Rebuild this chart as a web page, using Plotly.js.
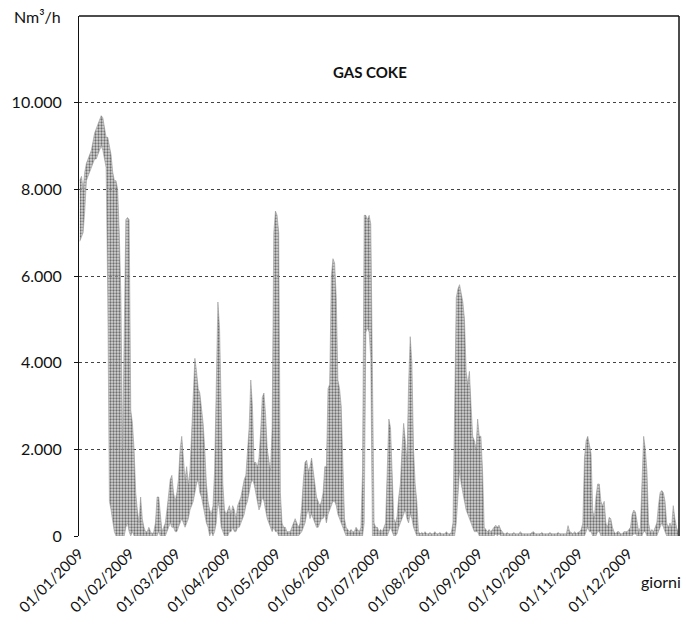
<!DOCTYPE html>
<html><head><meta charset="utf-8">
<script src="https://cdn.plot.ly/plotly-3.0.1.min.js"></script>
<style>html,body{margin:0;padding:0;background:#fff}</style>
</head><body><div id="chart" style="width:686px;height:627px"></div>
<script>
// Daily max / min of the hourly GAS COKE flow (Nm3/h)
const janMax = [8200,8300,8000,8400,8600,8700,8800,8900,9100,9300,9400,9500,9600,9700,9650,9400,9200,9200,9000,8800,8400,8200,8200,8000,7000,5500,2000,5000,7300,7350,7300];
const janMin = [6800,6900,7000,7500,8200,8300,8400,8500,8600,8700,8700,8800,8900,9000,8900,8700,8500,5500,800,600,300,100,0,0,0,0,0,0,200,300,100];
const febMax = [2900,2600,2000,1000,600,300,900,400,200,100,100,200,100,50,100,300,900,900,500,100,200,300,600,900,1300,1400,1000,800];
const febMin = [0,100,0,0,0,0,0,0,0,0,0,0,0,0,0,0,0,100,0,0,0,0,100,200,300,200,200,100];
const marMax = [1000,1300,2000,2300,1700,1300,1600,1200,1500,2500,3500,4100,3800,3400,3300,3000,2600,2000,1200,800,600,500,700,1500,3500,5400,4800,3000,1200,600,500];
const marMin = [100,200,300,400,300,200,300,400,600,700,800,1000,1200,1300,1000,900,700,500,300,200,0,100,0,100,300,800,600,200,100,0,0];
const aprMax = [600,700,500,700,600,400,700,800,900,1100,1300,1400,1900,2500,3600,3000,1700,1700,1600,1800,2400,3200,3300,2800,2000,1700,1500,2500,7000,7500];
const aprMin = [0,100,100,200,100,100,200,200,300,400,500,700,800,1000,1200,1300,1200,1000,800,600,700,900,800,600,400,300,200,100,200,100];
const mayMax = [7400,7000,1000,300,200,200,100,100,100,200,300,400,300,200,300,700,1300,1700,1750,1500,1600,1800,1500,1200,900,800,700,800,1000,1600,1600];
const mayMin = [100,0,0,0,0,0,0,0,0,0,0,0,0,0,50,100,200,300,500,600,400,500,400,300,200,200,300,400,400,500,300];
const junMax = [3400,3500,6000,6400,6300,5500,3600,3400,3000,1500,400,200,150,100,150,100,100,200,150,100,200,1500,7400,7400,7300,7400,7200,4200,300,200];
const junMin = [500,600,700,800,800,700,500,400,300,200,100,0,0,0,0,0,0,0,0,0,0,0,300,4700,4800,4700,4100,0,0,0];
const julMax = [200,100,150,100,200,300,1500,2700,2500,1200,400,300,450,900,1200,2000,2600,2200,1700,3500,4600,4000,2000,1200,800,100,50,80,50,100,50];
const julMin = [0,0,0,0,0,0,0,100,200,100,0,0,50,200,300,400,500,600,400,300,500,400,200,100,0,0,0,0,0,0,0];
const augMax = [50,80,50,50,100,50,50,80,50,50,50,100,50,50,80,300,2500,5500,5700,5800,5600,5400,5000,3800,3500,3800,3000,2300,2200,2000,2700];
const augMin = [0,0,0,0,0,0,0,0,0,0,0,0,0,0,0,0,0,300,800,1500,1200,1000,800,600,500,400,300,200,100,100,100];
const sepMax = [2300,2300,1500,200,150,100,150,100,150,200,250,200,250,150,100,50,50,80,50,50,50,80,50,50,50,100,50,50,50,50];
const sepMin = [0,0,0,0,0,0,0,0,0,0,50,0,50,0,0,0,0,0,0,0,0,0,0,0,0,0,0,0,0,0];
const octMax = [50,50,80,100,50,50,50,50,80,50,50,50,50,80,50,50,50,50,80,50,50,50,50,50,240,100,80,50,100,50,80];
const octMin = [0,0,0,0,0,0,0,0,0,0,0,0,0,0,0,0,0,0,0,0,0,0,0,0,0,0,0,0,0,0,0];
const novMax = [100,150,300,1800,2200,2300,2100,1900,600,400,900,1200,1200,800,700,800,300,200,430,400,200,100,50,100,100,50,50,100,100,100];
const novMin = [0,0,0,0,100,200,100,100,0,0,0,100,100,0,0,0,0,0,0,0,0,0,0,0,0,0,0,0,0,0];
const decMax = [150,200,500,600,550,300,100,200,1200,2300,2000,1500,300,100,150,100,200,300,700,1000,1050,1000,800,300,200,300,200,700,400,200,100];
const decMin = [0,0,0,50,50,0,0,0,0,100,100,0,0,0,0,0,0,0,100,200,300,200,100,0,0,0,0,0,0,0,0];

const monthTicks = ['2009-01-01','2009-02-01','2009-03-01','2009-04-01','2009-05-01','2009-06-01','2009-07-01','2009-08-01','2009-09-01','2009-10-01','2009-11-01','2009-12-01'];
const yTicks = [0,2000,4000,6000,8000,10000];

const dailyMax = [].concat(janMax,febMax,marMax,aprMax,mayMax,junMax,julMax,augMax,sepMax,octMax,novMax,decMax);
const dailyMin = [].concat(janMin,febMin,marMin,aprMin,mayMin,junMin,julMin,augMin,sepMin,octMin,novMin,decMin);
const days = dailyMax.map((_, i) => new Date(Date.UTC(2009, 0, 1 + i)).toISOString().slice(0, 10) + ' 12:00');

const traces = [
  {x: days, y: dailyMin, type: 'scatter', mode: 'lines', line: {color: '#a0a0a0', width: 0.6}, hoverinfo: 'skip'},
  {x: days, y: dailyMax, type: 'scatter', mode: 'lines', fill: 'tonexty',
   fillcolor: 'rgba(150,150,150,0.55)',
   fillpattern: {shape: '.', fgcolor: '#6e6e6e', bgcolor: 'rgba(185,185,185,0.6)', size: 3, solidity: 0.45},
   line: {color: '#999', width: 0.6}}
];

const layout = {
  width: 686, height: 627,
  margin: {l: 79, r: 7, t: 16, b: 91},
  paper_bgcolor: '#fff', plot_bgcolor: '#fff',
  separators: ',.',
  showlegend: false,
  font: {family: 'Lato, "Open Sans", sans-serif', color: '#111', size: 15},
  xaxis: {
    type: 'date', range: ['2009-01-01', '2010-01-01'],
    tickvals: monthTicks, tickformat: '%d/%m/%Y', tickangle: -45,
    showgrid: false, zeroline: false, showline: false, ticks: '',
    ticklabelstandoff: 5,
    tickfont: {size: 15, color: '#111'}
  },
  yaxis: {
    range: [0, 12000], tickvals: yTicks, tickformat: ',d',
    showgrid: true, gridcolor: '#444', griddash: 'dot', gridwidth: 1,
    zeroline: false, showline: true, linecolor: '#111', linewidth: 1,
    ticks: 'outside', ticklen: 4, tickcolor: '#111', ticklabelstandoff: 9,
    tickfont: {size: 16, color: '#111'}
  },
  shapes: [
    {type: 'line', xref: 'paper', yref: 'paper', x0: 0, x1: 1, y0: 1, y1: 1, line: {color: '#111', width: 1.5}},
    {type: 'line', xref: 'paper', yref: 'paper', x0: 1, x1: 1, y0: 0, y1: 1, line: {color: '#111', width: 1.5}}
  ],
  annotations: [
    {text: '<b>GAS COKE</b>', xref: 'paper', yref: 'paper', x: 0.485, y: 0.892, xanchor: 'center', yanchor: 'middle', showarrow: false, font: {size: 15, color: '#111'}},
    {text: 'Nm³/h', xref: 'paper', yref: 'paper', x: 0, y: 1, xanchor: 'right', yanchor: 'middle', xshift: -16, showarrow: false, font: {size: 16, color: '#111'}},
    {text: 'giorni', xref: 'paper', yref: 'paper', x: 1, y: 0, xanchor: 'right', yanchor: 'middle', xshift: 4, yshift: -45, showarrow: false, font: {size: 16, color: '#111'}}
  ]
};

Plotly.newPlot('chart', traces, layout, {staticPlot: true, displayModeBar: false});
</script>
</body></html>
